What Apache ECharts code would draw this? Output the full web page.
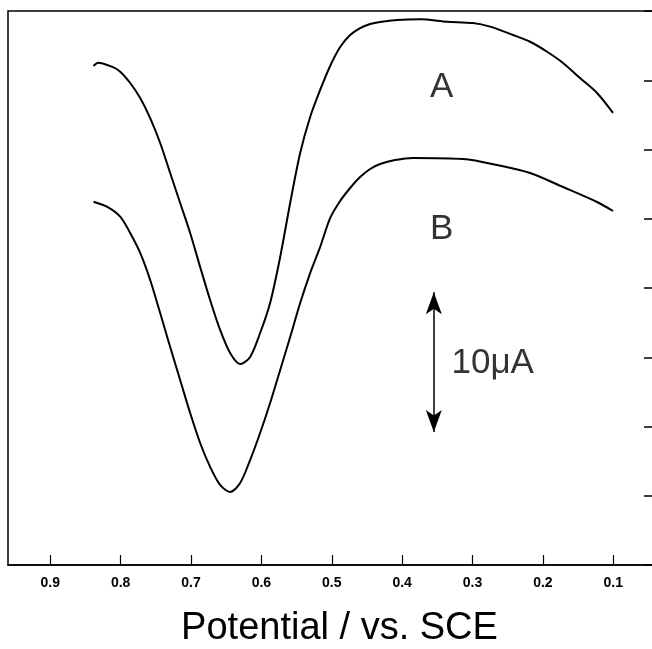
<!DOCTYPE html>
<html>
<head>
<meta charset="utf-8">
<script src="https://cdn.jsdelivr.net/npm/echarts@6/dist/echarts.min.js"></script>
<style>
  html, body { margin: 0; padding: 0; background: #fff; }
  #chart { width: 652px; height: 649px; }
</style>
</head>
<body>
<div id="chart"></div>
<script>
// potential (V vs. SCE) and current (uA, arbitrary baseline)
const potentialA = [0.8385, 0.8318, 0.8124, 0.8006, 0.7864, 0.7722, 0.758, 0.7438, 0.7296, 0.7154,
  0.7012, 0.687, 0.6728, 0.6586, 0.6444, 0.6302, 0.616, 0.6018, 0.5876, 0.5733, 0.5591, 0.5449,
  0.5307, 0.5165, 0.5023, 0.4881, 0.4739, 0.4597, 0.4455, 0.4313, 0.4072, 0.3745, 0.3362, 0.2993,
  0.2751, 0.2424, 0.2183, 0.1941, 0.1714, 0.1473, 0.1231, 0.1004];
const currentA = [36.03, 36.27, 35.98, 35.62, 34.8, 33.72, 32.27, 30.47, 28.3, 26.14,
  23.97, 21.52, 19.13, 16.97, 15.31, 14.51, 15.02, 16.75, 18.92, 22.24, 26.14, 29.75,
  32.35, 34.3, 36.03, 37.4, 38.27, 38.77, 39.06, 39.21, 39.35, 39.4, 39.23, 39.13,
  38.87, 38.27, 37.78, 37.06, 36.25, 35.16, 34.08, 32.64];

const potentialB = [0.8385, 0.8195, 0.8006, 0.7864, 0.7722, 0.758, 0.7438, 0.7296, 0.7154, 0.7012,
  0.687, 0.6728, 0.6586, 0.6444, 0.6302, 0.616, 0.6018, 0.5876, 0.5733, 0.5591, 0.5449, 0.5307,
  0.5165, 0.5023, 0.4881, 0.4739, 0.4597, 0.4455, 0.4313, 0.41, 0.3845, 0.3134, 0.2651, 0.2183,
  0.1714, 0.1231, 0.1004];
const currentB = [26.23, 25.87, 25.15, 23.97, 22.53, 20.58, 18.19, 15.74, 13.36, 10.97,
  8.81, 7.08, 5.78, 5.27, 5.92, 7.58, 9.53, 11.7, 14.08, 16.46, 18.92, 21.08,
  22.96, 25.05, 26.28, 27.22, 28.01, 28.59, 28.95, 29.24, 29.39, 29.31, 28.88, 28.3,
  27.29, 26.21, 25.56];

// text labels in data coordinates
const labelTexts = ["A", "B", "10μA"];
const labelPotential = [0.344, 0.344, 0.2713];
const labelCurrent = [34.48, 24.26, 14.58];

// 10 uA scale bar
const scaleBarPotential = 0.355;
const scaleBarFrom = 9.6;
const scaleBarTo = 19.7;

const zip = (xs, ys) => xs.map((x, i) => [x, ys[i]]);

const chart = echarts.init(document.getElementById("chart"));
chart.setOption({
  animation: false,
  grid: {
    left: 8, right: -1, top: 11, bottom: 84,
    outerBoundsMode: "none",
    show: true, borderColor: "#000", borderWidth: 1.5
  },
  xAxis: {
    type: "value",
    inverse: true,
    min: 0.0436,
    max: 0.96,
    splitNumber: 9,
    name: "Potential / vs. SCE",
    nameLocation: "middle",
    nameGap: 45,
    nameTextStyle: {
      fontFamily: "Liberation Sans", fontSize: 38, color: "#000",
      padding: [0, 0, 0, 18]
    },
    axisLine: { lineStyle: { color: "#000", width: 1.5 } },
    axisTick: { inside: true, length: 10, lineStyle: { color: "#000", width: 1.2 } },
    axisLabel: {
      margin: 11, color: "#000", fontFamily: "Liberation Sans", fontSize: 14, fontWeight: "bold",
      showMinLabel: false, showMaxLabel: false,
      formatter: (v) => v.toFixed(1)
    },
    splitLine: { show: false }
  },
  yAxis: {
    type: "value",
    position: "right",
    min: 0,
    max: 40,
    interval: 5,
    axisLine: { show: true, lineStyle: { color: "#000", width: 1.5 } },
    axisTick: { show: true, inside: true, length: 9, lineStyle: { color: "#000", width: 1.5 } },
    axisLabel: { show: false },
    splitLine: { show: false }
  },
  series: [
    {
      name: "A",
      type: "line",
      data: zip(potentialA, currentA),
      smooth: 0.3,
      showSymbol: false,
      lineStyle: { color: "#000", width: 2 }
    },
    {
      name: "B",
      type: "line",
      data: zip(potentialB, currentB),
      smooth: 0.3,
      showSymbol: false,
      lineStyle: { color: "#000", width: 2 },
      markLine: {
        silent: true,
        symbol: ["arrow", "arrow"],
        symbolSize: [12, 22],
        label: { show: false },
        lineStyle: { color: "#000", width: 1.5, type: "solid" },
        data: [[
          { coord: [scaleBarPotential, scaleBarFrom] },
          { coord: [scaleBarPotential, scaleBarTo] }
        ]]
      }
    },
    {
      name: "labels",
      type: "scatter",
      symbolSize: 0,
      silent: true,
      data: labelTexts.map((t, i) => [labelPotential[i], labelCurrent[i], t]),
      label: {
        show: true,
        position: "inside",
        formatter: (p) => p.value[2],
        color: "#000",
        fontFamily: "Liberation Sans",
        fontSize: 35
      }
    }
  ]
});
</script>
</body>
</html>
